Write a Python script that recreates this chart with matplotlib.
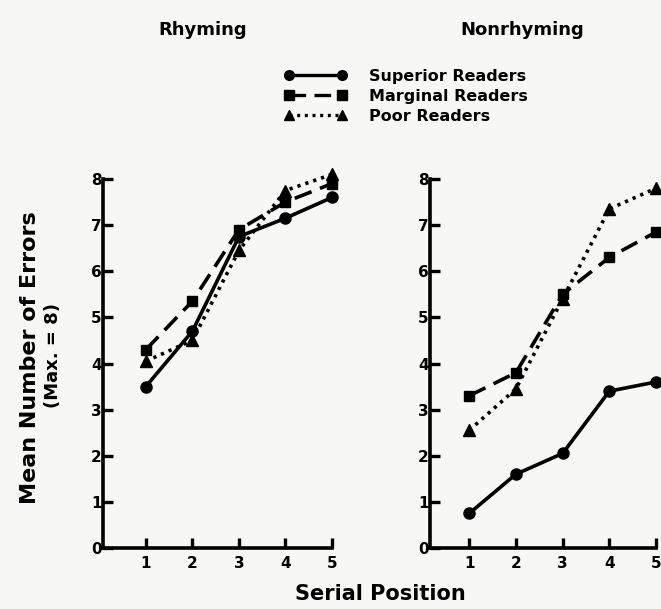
import matplotlib
matplotlib.use("Agg")
import matplotlib.pyplot as plt
from matplotlib.lines import Line2D

plt.rcParams['font.family'] = ['DejaVu Sans']
plt.rcParams['font.weight'] = 'bold'

positions = [1, 2, 3, 4, 5]
groups = ["Superior Readers", "Marginal Readers", "Poor Readers"]

rhyming_superior = [3.5, 4.7, 6.75, 7.15, 7.6]
rhyming_marginal = [4.3, 5.35, 6.9, 7.5, 7.9]
rhyming_poor = [4.05, 4.5, 6.45, 7.75, 8.1]

nonrhyming_superior = [0.75, 1.6, 2.05, 3.4, 3.6]
nonrhyming_marginal = [3.3, 3.8, 5.5, 6.3, 6.85]
nonrhyming_poor = [2.55, 3.45, 5.4, 7.35, 7.8]

styles = [
    dict(ls='-', marker='o', ms=8),
    dict(ls=(0, (5, 2.5)), marker='s', ms=7.5),
    dict(ls=(0, (0.9, 1.4)), marker='^', ms=8),
]

W, H = 661, 609
fig = plt.figure(figsize=(W / 100, H / 100), dpi=100)
fig.patch.set_facecolor('#f7f7f5')

ax1 = fig.add_axes([103 / W, 1 - 548 / H, 229 / W, 369 / H])
ax2 = fig.add_axes([430 / W, 1 - 548 / H, 226 / W, 369 / H])

panels = [
    (ax1, [rhyming_superior, rhyming_marginal, rhyming_poor], 0.08),
    (ax2, [nonrhyming_superior, nonrhyming_marginal, nonrhyming_poor], 0.16),
]

for ax, series, x0 in panels:
    ax.set_facecolor('none')
    for vals, st in zip(series, styles):
        ax.plot(positions, vals, color='black', lw=2.6, ls=st['ls'],
                marker=st['marker'], ms=st['ms'], mfc='black', mec='black',
                clip_on=False, zorder=3)
    ax.set_xlim(x0, 5.0)
    ax.set_ylim(0, 8)
    ax.spines['top'].set_visible(False)
    ax.spines['right'].set_visible(False)
    for s in ('left', 'bottom'):
        ax.spines[s].set_linewidth(2.6)
    ax.set_xticks(positions)
    ax.set_yticks(range(0, 9))
    ax.tick_params(direction='in', length=7, width=2.4, labelsize=11, pad=6)
    ax.tick_params(axis='y', pad=1)
    for lab in ax.get_xticklabels() + ax.get_yticklabels():
        lab.set_fontweight('bold')

fig.text(203 / W, 1 - 30 / H, "Rhyming", ha='center', va='center',
         fontsize=13, fontweight='bold')
fig.text(522 / W, 1 - 30 / H, "Nonrhyming", ha='center', va='center',
         fontsize=13, fontweight='bold')
fig.text(30 / W, 1 - 358 / H, "Mean Number of Errors", rotation=90,
         ha='center', va='center', fontsize=16, fontweight='bold')
fig.text(53 / W, 1 - 356 / H, "(Max. = 8)", rotation=90,
         ha='center', va='center', fontsize=13, fontweight='bold')
fig.text(380 / W, 1 - 594 / H, "Serial Position", ha='center', va='center',
         fontsize=15, fontweight='bold')

handles = [Line2D([], [], color='black', lw=2.4, ls=st['ls'],
                  marker=st['marker'], ms=st['ms'] - 1)
           for st in styles]
fig.legend(handles, groups, loc='upper left',
           bbox_to_anchor=(284 / W, 1 - 69 / H), frameon=False,
           numpoints=2, handlelength=3.9, handletextpad=1.4,
           labelspacing=0.3, borderpad=0, borderaxespad=0,
           prop=dict(size=11.5, weight='bold'))

fig.savefig('out.png', dpi=100, facecolor=fig.get_facecolor())
